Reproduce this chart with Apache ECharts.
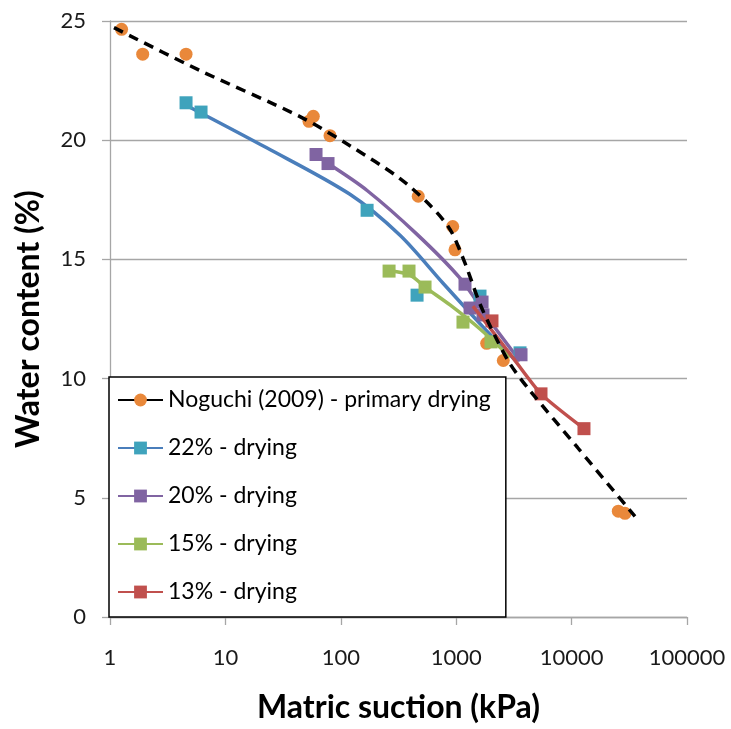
<!DOCTYPE html>
<html>
<head>
<meta charset="utf-8">
<script src="https://cdn.jsdelivr.net/npm/echarts@6/dist/echarts.min.js"></script>
<style>
html,body{margin:0;padding:0;background:#fff;}
#chart{width:731px;height:729px;}
</style>
</head>
<body>
<div id="chart"></div>
<script>
// ---- data ----
const xTicks = [1, 10, 100, 1000, 10000, 100000];
const yTicks = [0, 5, 10, 15, 20, 25];

const seriesNames = ['Noguchi (2009) - primary drying', '22% - drying', '20% - drying', '15% - drying', '13% - drying'];

// measured points (markers)
const noguchiX = [1.26, 1.92, 4.56, 53.0, 57.8, 80.6, 469, 933, 976, 1837, 2559, 25400, 29000];
const noguchiY = [24.65, 23.61, 23.61, 20.79, 21.0, 20.19, 17.65, 16.38, 15.40, 11.48, 10.76, 4.44, 4.35];
const d22X = [4.56, 6.15, 169, 458, 1608, 3573];
const d22Y = [21.57, 21.18, 17.06, 13.5, 13.46, 11.08];
const d20X = [61, 77.5, 1192, 1318, 1675, 1707, 3645];
const d20Y = [19.40, 19.02, 13.96, 12.96, 13.21, 12.67, 11.0];
const d15X = [262, 390, 537, 1145, 2003];
const d15Y = [14.51, 14.51, 13.84, 12.37, 11.54];
const d13X = [2042, 5430, 12800];
const d13Y = [12.42, 9.36, 7.9];

// fitted curves (lines)
const fitNoguchiX = [1.083, 6.03, 44.3, 120, 326, 593, 884, 1192, 1608, 2169, 2925, 4365, 11250, 35400];
const fitNoguchiY = [24.72, 22.92, 20.99, 19.77, 18.39, 17.27, 16.26, 14.84, 13.13, 11.79, 10.62, 9.49, 7.11, 4.22];
const fit22X = [4.47, 22.8, 120, 326, 769, 1707, 3297];
const fit22Y = [21.49, 19.68, 17.73, 16.01, 14.0, 12.17, 10.74];
const fit20X = [77.5, 169, 458, 1079, 1963, 3573];
const fit20Y = [19.02, 17.89, 16.05, 14.21, 12.42, 10.74];
const fit15X = [267, 398, 537, 884, 1608, 2925];
const fit15Y = [14.51, 14.34, 13.84, 13.09, 12.08, 10.91];
const fit13X = [1396, 2925, 5430, 12800];
const fit13Y = [13.04, 11.04, 9.36, 7.9];

// ---- styling ----
const C = {
  orange: '#E9883A', black: '#000000',
  blue: '#4A7EBB', teal: '#3FA3BC',
  purple: '#8064A2', green: '#9BBB59', red: '#C0504D'
};
const zip = (xs, ys) => xs.map((x, i) => [x, ys[i]]);
const FONT = 'Lato';

function fitLine(name, xs, ys, lineColor, symColor, symbol, z, dashed, smooth) {
  return {
    name: name, type: 'line', data: zip(xs, ys), smooth: smooth,
    showSymbol: false, symbol: symbol, symbolSize: 13,
    lineStyle: { color: lineColor, width: 3.5, type: dashed ? [10, 7] : 'solid', cap: 'butt' },
    itemStyle: { color: symColor },
    emphasis: { disabled: true }, silent: true, z: z, animation: false
  };
}
function markers(xs, ys, color, symbol, z) {
  return {
    type: 'scatter', data: zip(xs, ys), symbol: symbol, symbolSize: 13,
    itemStyle: { color: color, opacity: 1 }, silent: true, z: z, animation: false
  };
}

const chart = echarts.init(document.getElementById('chart'), null, { renderer: 'canvas' });
chart.setOption({
  backgroundColor: '#fff',
  animation: false,
  grid: { left: 110, right: 44, top: 21, bottom: 110, containLabel: false },
  xAxis: {
    type: 'log', logBase: 10, min: xTicks[0], max: xTicks[xTicks.length - 1],
    name: 'Matric suction (kPa)', nameLocation: 'middle', nameGap: 75,
    nameTextStyle: { fontFamily: FONT, fontWeight: 'bold', fontSize: 32, color: '#000' },
    axisLine: { lineStyle: { color: '#A6A6A6', width: 1.3 } },
    axisTick: { show: true, inside: false, length: 8, lineStyle: { color: '#A6A6A6', width: 1.3 } },
    minorTick: { show: false },
    splitLine: { show: false },
    axisLabel: { fontFamily: FONT, fontSize: 22, color: '#1a1a1a', margin: 30, formatter: v => String(Math.round(v)) }
  },
  yAxis: {
    type: 'value', min: yTicks[0], max: yTicks[yTicks.length - 1], interval: yTicks[1] - yTicks[0],
    name: 'Water content (%)', nameLocation: 'middle', nameGap: 65,
    nameTextStyle: { fontFamily: FONT, fontWeight: 'bold', fontSize: 32, color: '#000' },
    axisLine: { show: true, lineStyle: { color: '#A6A6A6', width: 1.3 } },
    axisTick: { show: true, inside: false, length: 8, lineStyle: { color: '#A6A6A6', width: 1.3 } },
    splitLine: { show: true, lineStyle: { color: '#A6A6A6', width: 1.3 } },
    axisLabel: { fontFamily: FONT, fontSize: 22, color: '#1a1a1a', margin: 24 }
  },
  legend: {
    orient: 'vertical', left: 109, top: 377,
    data: seriesNames,
    itemWidth: 45, itemHeight: 16, itemGap: 22, itemTextGap: 8,
    padding: [10, 15, 12, 8],
    backgroundColor: '#fff', borderColor: '#000', borderWidth: 1.5,
    lineStyle: { type: 'solid' },
    textStyle: { fontFamily: FONT, fontSize: 23, color: '#000', lineHeight: 26 },
    selectedMode: false, z: 20
  },
  series: [
    markers(noguchiX, noguchiY, C.orange, 'circle', 2),
    fitLine(seriesNames[1], fit22X, fit22Y, C.blue, C.teal, 'rect', 3, false, 0.3),
    markers(d22X, d22Y, C.teal, 'rect', 4),
    fitLine(seriesNames[2], fit20X, fit20Y, C.purple, C.purple, 'rect', 3, false, 0.3),
    markers(d20X, d20Y, C.purple, 'rect', 4),
    markers(d15X, d15Y, C.green, 'rect', 4),
    fitLine(seriesNames[3], fit15X, fit15Y, C.green, C.green, 'rect', 5, false, 0.3),
    markers(d13X, d13Y, C.red, 'rect', 4),
    fitLine(seriesNames[4], fit13X, fit13Y, C.red, C.red, 'rect', 5, false, 0.2),
    fitLine(seriesNames[0], fitNoguchiX, fitNoguchiY, C.black, C.orange, 'circle', 6, true, 0.3)
  ]
});
</script>
</body>
</html>
